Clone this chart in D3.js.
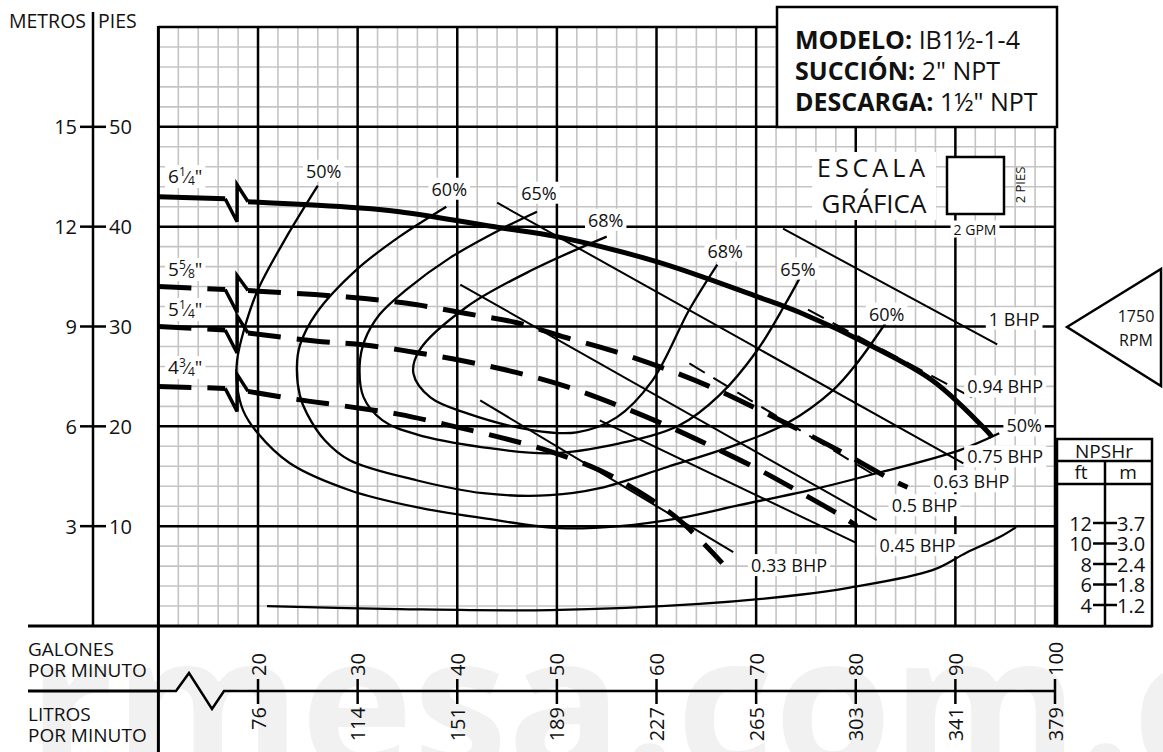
<!DOCTYPE html>
<html><head><meta charset="utf-8">
<script src="https://cdn.jsdelivr.net/npm/d3@7"></script>
<style>body{margin:0;background:#fff} svg{display:block} text{font-family:"Open Sans",sans-serif;fill:#111}</style>
</head><body><svg id="c" width="1163" height="752"></svg>
<script>
// ---------- data ----------
const gpmTicks = [20,30,40,50,60,70,80,90,100];
const lpmTicks = [76,114,151,189,227,265,303,341,379];
const ftTicks = [10,20,30,40,50];
const mTicks = [3,6,9,12,15];
const npshFtTicks = [12,10,8,6,4];
const npshMTicks = ["3.7","3.0","2.4","1.8","1.2"];

// head curves [GPM, ft]
const head6_25 = [[10,43.0],[16.7,42.8],[19.0,42.5],[29.9,41.9],[34.2,41.5],[44.3,39.9],[50.0,39.0],[60.0,36.5],[70.1,33.0],[74.4,31.4],[81.7,28.0],[87.7,24.6],[93.1,19.6],[93.7,18.9]];
const head5_625 = [[10,34.0],[16.7,33.7],[19.0,33.6],[25.7,33.2],[30.7,32.8],[35.8,32.2],[40.9,31.3],[45.9,30.4],[50.9,28.9],[55.8,27.5],[60.5,25.9],[65.3,24.0],[70.0,21.8],[74.6,19.5],[79.2,17.1],[83.7,14.6],[85.2,13.9]];
const head5_25 = [[10,30.0],[16.7,29.65],[19.0,29.35],[25.7,28.55],[30.7,28.15],[35.8,27.4],[40.9,26.5],[45.9,25.4],[50.9,24.0],[55.6,22.3],[60.5,20.3],[65.3,18.1],[70.4,15.6],[74.4,13.4],[78.6,11.0],[80.1,10.0]];
const head4_75 = [[10,24.0],[16.7,23.8],[19.0,23.5],[23.9,22.7],[28.9,22.0],[34.2,21.2],[39.2,20.1],[44.3,18.9],[49.3,17.5],[54.3,15.6],[58.3,13.4],[62.3,10.6],[66.6,6.3]];

// efficiency iso-curves [GPM, ft]
const eff50 = [[26.0,44.1],[22.7,38.7],[20.0,33.7],[18.6,29.7],[17.9,26.6],[17.9,24.1],[18.5,21.6],[19.9,19.4],[23.2,16.3],[29.2,13.6],[35.9,11.9],[42.6,10.8],[50.3,9.8],[56.3,10.0],[62.3,10.8],[68.3,12.1],[75.4,13.6],[82.1,15.3],[90.4,17.6],[94.4,19.3]];
const eff60 = [[38.9,42.0],[34.2,39.0],[29.9,35.7],[25.9,31.4],[24.2,28.1],[23.9,25.9],[24.2,23.1],[24.9,21.3],[26.7,18.6],[29.2,16.6],[35.9,14.6],[42.6,13.3],[49.3,13.1],[54.3,13.8],[61.0,15.9],[68.4,18.3],[73.1,20.3],[77.7,23.6],[80.1,26.3],[83.1,30.5]];
const eff65 = [[48.0,41.5],[44.3,39.7],[39.3,36.9],[34.9,33.7],[32.2,31.2],[30.7,28.6],[30.2,26.1],[30.6,22.9],[32.5,20.6],[35.9,19.2],[42.6,17.9],[49.3,17.3],[56.3,18.3],[62.3,20.1],[66.3,23.1],[70.1,27.6],[72.9,32.2],[74.4,34.9]];
const eff68 = [[55.0,39.0],[47.6,35.7],[41.0,32.0],[36.2,27.6],[35.6,25.3],[37.3,22.9],[41.0,21.3],[47.6,19.6],[52.0,19.4],[56.0,20.9],[59.6,24.6],[63.3,31.7],[66.1,36.2]];

// NPSHr curve [GPM, ft NPSHr]
const npshr = [[20.9,3.9],[34.2,3.6],[49.3,3.5],[64.3,4.1],[74.4,5.0],[79.4,5.7],[87.7,7.4],[91.1,9.1],[94.4,10.6],[96.1,11.6]];

// BHP lines [GPM, ft] start/end
const bhp1 = [[72.7,39.8],[94.2,28.2]];
const bhp094 = [[75.2,31.7],[92.2,22.6]];
const bhp075 = [[44.0,42.4],[90.8,16.3]];
const bhp063 = [[63.3,26.3],[82.4,14.8]];
const bhp05 = [[40.3,34.2],[82.1,10.6]];
const bhp045 = [[54.3,20.6],[80.1,8.3]];
const bhp033 = [[42.3,22.6],[67.7,7.4]];

// ---------- scales ----------
const svg = d3.select("#c");
const x = d3.scaleLinear().domain([10,100]).range([158.4,1055]);
const y = d3.scaleLinear().domain([0,60]).range([626,27]);
const yN = d3.scaleLinear().domain([0,12]).range([646,523]);

// watermark
svg.append("text").attr("x",28).attr("y",772).attr("font-size",190).attr("font-weight",700)
  .style("fill","#f1f1f1").text("rmesa.com.c");

// ---------- grid ----------
const grid = svg.append("g");
const minorX = d3.range(12,100,2).filter(v=>v%10!==0);
const minorY = d3.range(2,60,2).filter(v=>v%10!==0);
grid.selectAll(".mx").data(minorX).join("line").attr("x1",d=>x(d)).attr("x2",d=>x(d)).attr("y1",y(60)).attr("y2",y(0)).attr("stroke","#c4c4c4").attr("stroke-width",1.6);
grid.selectAll(".my").data(minorY).join("line").attr("x1",x(10)).attr("x2",x(100)).attr("y1",d=>y(d)).attr("y2",d=>y(d)).attr("stroke","#c4c4c4").attr("stroke-width",1.6);
grid.selectAll(".Mx").data(d3.range(20,101,10)).join("line").attr("x1",d=>x(d)).attr("x2",d=>x(d)).attr("y1",y(60)).attr("y2",y(0)).attr("stroke","#000").attr("stroke-width",2.5);
grid.selectAll(".My").data(d3.range(10,61,10)).join("line").attr("x1",x(10)).attr("x2",x(100)).attr("y1",d=>y(d)).attr("y2",d=>y(d)).attr("stroke","#000").attr("stroke-width",2.5);
grid.append("line").attr("x1",x(10)).attr("x2",x(10)).attr("y1",y(60)-1).attr("y2",752).attr("stroke","#000").attr("stroke-width",3);
grid.append("line").attr("x1",28).attr("x2",1152).attr("y1",y(0)).attr("y2",y(0)).attr("stroke","#000").attr("stroke-width",3);

// ---------- left axis ----------
const la = svg.append("g");
la.append("line").attr("x1",93).attr("x2",93).attr("y1",12).attr("y2",y(0)).attr("stroke","#000").attr("stroke-width",2.5);
la.selectAll(".t").data(ftTicks).join("line").attr("x1",80).attr("x2",106).attr("y1",d=>y(d)).attr("y2",d=>y(d)).attr("stroke","#000").attr("stroke-width",2.5);
la.selectAll(".lm").data(mTicks).join("text").attr("x",77).attr("y",(d,i)=>y(ftTicks[i])).attr("text-anchor","end").attr("dominant-baseline","central").attr("font-size",20).text(d=>d);
la.selectAll(".lf").data(ftTicks).join("text").attr("x",109).attr("y",d=>y(d)).attr("dominant-baseline","central").attr("font-size",20).text(d=>d);
la.append("text").attr("x",86).attr("y",28).attr("text-anchor","end").attr("font-size",19.5).text("METROS");
la.append("text").attr("x",98).attr("y",28).attr("font-size",19.5).text("PIES");

// ---------- bottom axis ----------
const ba = svg.append("g");
const ay = 691;
ba.append("line").attr("x1",28).attr("x2",x(10)).attr("y1",ay).attr("y2",ay).attr("stroke","#000").attr("stroke-width",3);
ba.append("path").attr("d",`M${x(10)},${ay}L176,${ay}L189,673L212,709L224,${ay}L${x(100)},${ay}`).attr("fill","none").attr("stroke","#000").attr("stroke-width",2.5);
ba.selectAll(".bt").data(gpmTicks).join("line").attr("x1",d=>x(d)).attr("x2",d=>x(d)).attr("y1",679).attr("y2",704).attr("stroke","#000").attr("stroke-width",2.5);
ba.selectAll(".bg").data(gpmTicks).join("text").attr("transform",d=>`translate(${x(d)},676) rotate(-90)`).attr("dominant-baseline","central").attr("font-size",20).text(d=>d);
ba.selectAll(".bl").data(lpmTicks).join("text").attr("transform",(d,i)=>`translate(${x(gpmTicks[i])},707) rotate(-90)`).attr("text-anchor","end").attr("dominant-baseline","central").attr("font-size",20).text(d=>d);
[["GALONES",656],["POR MINUTO",677],["LITROS",721],["POR MINUTO",742]].forEach(([t,yy])=>ba.append("text").attr("x",28).attr("y",yy).attr("font-size",19).text(t));

// ---------- curves ----------
const cg = svg.append("g");
const line = d3.line().x(d=>x(d[0])).y(d=>y(d[1])).curve(d3.curveCatmullRom.alpha(0.5));
[eff50,eff60,eff65,eff68].forEach(c=>cg.append("path").attr("d",line(c)).attr("fill","none").attr("stroke","#000").attr("stroke-width",2.3));
const lineN = d3.line().x(d=>x(d[0])).y(d=>yN(d[1])).curve(d3.curveCatmullRom.alpha(0.5));
cg.append("path").attr("d",lineN(npshr)).attr("fill","none").attr("stroke","#000").attr("stroke-width",2.3);
const straight = d3.line().x(d=>x(d[0])).y(d=>y(d[1]));
[bhp1,bhp075,bhp05,bhp033,bhp045].forEach(c=>cg.append("path").attr("d",straight(c)).attr("fill","none").attr("stroke","#000").attr("stroke-width",2));
[bhp094,bhp063].forEach(c=>cg.append("path").attr("d",straight(c)).attr("fill","none").attr("stroke","#000").attr("stroke-width",2).attr("stroke-dasharray","18,10"));

function headCurve(data, dashed){
  const left = data.filter(d=>d[0]<=16.7), right = data.filter(d=>d[0]>=19);
  const dash = dashed ? "33,16" : null;
  [left,right].forEach(seg=>cg.append("path").attr("d",line(seg)).attr("fill","none").attr("stroke","#000").attr("stroke-width",5).attr("stroke-dasharray",dash));
  const a = left[left.length-1], b = right[0];
  const xa=x(a[0]), ya=y(a[1]), xb=x(b[0]), yb=y(b[1]), xm=x(17.9);
  cg.append("path").attr("d",`M${xa},${ya}L${xm},${ya+23}L${xm},${ya-14}L${xb},${yb}`).attr("fill","none").attr("stroke","#000").attr("stroke-width",3.5);
}
headCurve(head6_25,false);
headCurve(head5_625,true);
headCurve(head5_25,true);
headCurve(head4_75,true);

// ---------- labels ----------
const lg = svg.append("g");
function label(xc, yc, txt, size){
  const g = lg.append("g");
  const r = g.append("rect").attr("fill","#fff");
  const t = g.append("text").attr("x",xc).attr("y",yc).attr("text-anchor","middle").attr("dominant-baseline","central").attr("font-size",size).text(txt);
  const bb = t.node().getBBox();
  r.attr("x",bb.x-3).attr("y",bb.y+1).attr("width",bb.width+6).attr("height",bb.height-2);
}
const effLabels = [["50%",26.6,45.6],["60%",39.2,43.8],["65%",48.2,43.4],["68%",54.9,40.7],["68%",66.9,37.6],["65%",74.2,35.8],["60%",83.1,31.3],["50%",96.9,20.1]];
effLabels.forEach(d=>label(x(d[1]),y(d[2]),d[0],18));
const bhpLabels = [["1 BHP",95.9,30.8],["0.94 BHP",95.0,24.0],["0.75 BHP",95.0,17.0],["0.63 BHP",91.6,14.5],["0.5 BHP",86.9,12.1],["0.45 BHP",86.2,8.1],["0.33 BHP",73.3,6.1]];
bhpLabels.forEach(d=>label(x(d[1]),y(d[2]),d[0],18));

function frac(xx, yy, whole, num, den){
  const g = lg.append("g");
  const r = g.append("rect").attr("fill","#fff");
  const t = g.append("text").attr("x",xx).attr("y",yy).attr("font-size",19);
  t.append("tspan").text(whole);
  t.append("tspan").attr("font-size",12).attr("dy",-7).text(num);
  t.append("tspan").attr("font-size",17).attr("dy",7).text("\u2044");
  t.append("tspan").attr("font-size",12).attr("dy",2).text(den);
  t.append("tspan").attr("dy",-2).text('"');
  const bb = t.node().getBBox();
  r.attr("x",bb.x-3).attr("y",bb.y+2).attr("width",bb.width+6).attr("height",bb.height-3);
}
frac(168,183,"6","1","4");
frac(168,276,"5","5","8");
frac(168,316,"5","1","4");
frac(168,374,"4","3","4");

// ---------- escala grafica ----------
const eg = svg.append("g");
eg.append("rect").attr("x",812).attr("y",152).attr("width",124).attr("height",68).attr("fill","#fff");
eg.append("text").attr("x",873).attr("y",177).attr("text-anchor","middle").attr("font-size",25).attr("letter-spacing",4).text("ESCALA");
eg.append("text").attr("x",874).attr("y",213).attr("text-anchor","middle").attr("font-size",26).text("GRÁFICA");
eg.append("rect").attr("x",947).attr("y",157).attr("width",57).attr("height",57).attr("fill","#fff").attr("stroke","#000").attr("stroke-width",2.5);
eg.append("text").attr("transform","translate(1020,185) rotate(-90)").attr("text-anchor","middle").attr("dominant-baseline","central").attr("font-size",13).text("2 PIES");
label(975,229,"2 GPM",14);

// ---------- 1750 RPM ----------
svg.append("polygon").attr("points","1067,327 1161,269 1161,386").attr("fill","#fff").attr("stroke","#000").attr("stroke-width",2.5);
svg.append("text").attr("x",1136).attr("y",322).attr("text-anchor","middle").attr("font-size",16).text("1750");
svg.append("text").attr("x",1136).attr("y",346).attr("text-anchor","middle").attr("font-size",16).text("RPM");

// ---------- NPSHr table ----------
const nt = svg.append("g");
nt.append("rect").attr("x",1057).attr("y",439).attr("width",95).attr("height",187).attr("fill","#fff").attr("stroke","#000").attr("stroke-width",2.5);
nt.append("line").attr("x1",1057).attr("x2",1152).attr("y1",461).attr("y2",461).attr("stroke","#000").attr("stroke-width",2.5);
nt.append("line").attr("x1",1057).attr("x2",1152).attr("y1",484).attr("y2",484).attr("stroke","#000").attr("stroke-width",2.5);
nt.append("line").attr("x1",1105).attr("x2",1105).attr("y1",461).attr("y2",626).attr("stroke","#000").attr("stroke-width",2.5);
nt.append("text").attr("x",1104).attr("y",451).attr("text-anchor","middle").attr("dominant-baseline","central").attr("font-size",19).text("NPSHr");
nt.append("text").attr("x",1081).attr("y",472).attr("text-anchor","middle").attr("dominant-baseline","central").attr("font-size",19).text("ft");
nt.append("text").attr("x",1128).attr("y",472).attr("text-anchor","middle").attr("dominant-baseline","central").attr("font-size",19).text("m");
nt.selectAll(".nt").data(npshFtTicks).join("line").attr("x1",1093).attr("x2",1117).attr("y1",d=>yN(d)).attr("y2",d=>yN(d)).attr("stroke","#000").attr("stroke-width",2.5);
nt.selectAll(".nf").data(npshFtTicks).join("text").attr("x",1092).attr("y",d=>yN(d)).attr("text-anchor","end").attr("dominant-baseline","central").attr("font-size",20).text(d=>d);
nt.selectAll(".nm").data(npshMTicks).join("text").attr("x",1117).attr("y",(d,i)=>yN(npshFtTicks[i])).attr("dominant-baseline","central").attr("font-size",20).text(d=>d);

// ---------- model box ----------
const mb = svg.append("g");
mb.append("rect").attr("x",777).attr("y",7).attr("width",280).attr("height",120).attr("fill","#fff").attr("stroke","#000").attr("stroke-width",2.5);
[["MODELO:"," IB1½-1-4",49],["SUCCIÓN:",' 2" NPT',80],["DESCARGA:",' 1½" NPT',111]].forEach(([b,r,yy])=>{
  const t = mb.append("text").attr("x",795).attr("y",yy).attr("font-size",25);
  t.append("tspan").attr("font-weight",700).text(b);
  t.append("tspan").text(r);
});
</script></body></html>
